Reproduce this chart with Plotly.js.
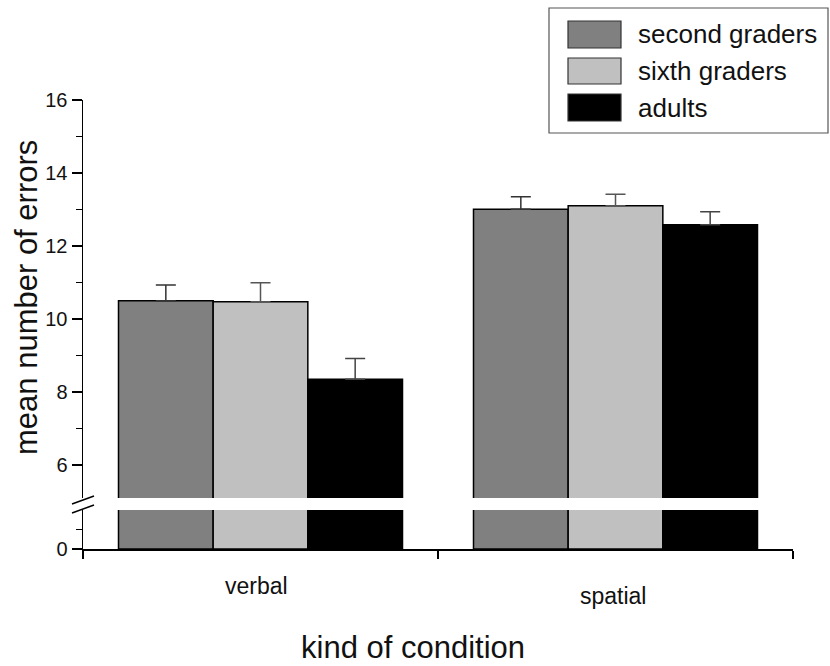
<!DOCTYPE html>
<html>
<head>
<meta charset="utf-8">
<script src="https://cdn.plot.ly/plotly-3.0.1.min.js"></script>
<style>
html,body{margin:0;padding:0;background:#fff;}
#chart{width:830px;height:666px;}
</style>
</head>
<body>
<div id="chart"></div>
<script>
// ---- data ----
const categories = ['verbal', 'spatial'];
const seriesNames = ['second graders', 'sixth graders', 'adults'];
const secondGraders = [10.50, 13.01];
const sixthGraders = [10.47, 13.10];
const adults = [8.35, 12.58];
const secondErr = [0.43, 0.34];
const sixthErr = [0.52, 0.32];
const adultsErr = [0.57, 0.36];
const yTickVals = [6, 8, 10, 12, 14, 16];
const xTitle = 'kind of condition';
const yTitle = 'mean number of errors';

const seriesValues = [secondGraders, sixthGraders, adults];
const seriesErrors = [secondErr, sixthErr, adultsErr];
const colors = ['#808080', '#c0c0c0', '#000000'];
const errColors = ['#333', '#555', '#444'];
const FONT = 'Liberation Sans, Arial, Helvetica, sans-serif';

// plot pixel geometry helpers (plot area: x 83..793, y 100..549)
const L = 83, R = 793, T = 100, B = 549;
const px = x => (x - L) / (R - L);
const py = y => (B - y) / (B - T);

const traces = [];
seriesValues.forEach((vals, i) => {
  // upper panel (broken axis, 5.1 .. 16)
  traces.push({
    type: 'bar', x: categories, y: vals, name: seriesNames[i],
    xaxis: 'x', yaxis: 'y2', showlegend: false,
    marker: {color: colors[i], line: {color: '#000', width: 1.5}},
    error_y: {type: 'data', symmetric: false, array: seriesErrors[i],
      arrayminus: vals.map(() => 0), color: errColors[i], thickness: 1.5, width: 10},
    hoverinfo: 'none'
  });
  // lower panel (0 .. 2)
  traces.push({
    type: 'bar', x: categories, y: vals, name: seriesNames[i],
    xaxis: 'x', yaxis: 'y', showlegend: false,
    marker: {color: colors[i], line: {color: '#000', width: 1.5}},
    hoverinfo: 'none'
  });
});

const shapes = [];
const annotations = [];

// custom legend box
shapes.push({type: 'rect', xref: 'paper', yref: 'paper',
  x0: px(549), x1: px(828), y0: py(133), y1: py(8),
  line: {color: '#555', width: 1.2}, fillcolor: 'rgba(0,0,0,0)'});
const rows = [[21, 48], [58, 84], [94, 121]];
seriesNames.forEach((n, i) => {
  shapes.push({type: 'rect', xref: 'paper', yref: 'paper',
    x0: px(568), x1: px(621), y0: py(rows[i][1]), y1: py(rows[i][0]),
    line: {color: '#333', width: 1.2}, fillcolor: colors[i]});
  annotations.push({xref: 'paper', yref: 'paper', x: px(636), y: py((rows[i][0] + rows[i][1]) / 2),
    xanchor: 'left', yanchor: 'middle', text: n, showarrow: false,
    font: {family: FONT, size: 26, color: '#111'}});
});

// axis break marks
shapes.push({type: 'line', xref: 'paper', yref: 'paper',
  x0: px(72), y0: py(504), x1: px(94), y1: py(496), line: {color: '#000', width: 1.5}});
shapes.push({type: 'line', xref: 'paper', yref: 'paper',
  x0: px(72), y0: py(513), x1: px(94), y1: py(505), line: {color: '#000', width: 1.5}});

// category labels
annotations.push({xref: 'x', yref: 'paper', x: categories[0], y: py(586), yanchor: 'middle',
  xshift: -4, text: categories[0], showarrow: false, font: {family: FONT, size: 23, color: '#111'}});
annotations.push({xref: 'x', yref: 'paper', x: categories[1], y: py(596), yanchor: 'middle',
  xshift: -3, text: categories[1], showarrow: false, font: {family: FONT, size: 23, color: '#111'}});
// axis titles
annotations.push({xref: 'paper', yref: 'paper', x: px(413), y: py(647), xanchor: 'center', yanchor: 'middle',
  text: xTitle, showarrow: false, font: {family: FONT, size: 31, color: '#111'}});
annotations.push({xref: 'paper', yref: 'paper', x: px(26), y: py(298), xanchor: 'center', yanchor: 'middle',
  textangle: -90, text: yTitle, showarrow: false, font: {family: FONT, size: 31, color: '#111'}});

const layout = {
  width: 830, height: 666,
  margin: {l: L, r: 830 - R, t: T, b: 666 - B, pad: 0},
  paper_bgcolor: '#fff', plot_bgcolor: '#fff',
  barmode: 'group', bargap: 0.2, bargroupgap: 0,
  showlegend: false,
  font: {family: FONT, size: 20, color: '#111'},
  xaxis: {
    type: 'category', range: [-0.5, 1.5], anchor: 'y',
    showline: true, linecolor: '#000', linewidth: 1.5,
    ticks: 'outside', tickson: 'boundaries', ticklen: 8, tickwidth: 1.5, tickcolor: '#000',
    showticklabels: false, showgrid: false, zeroline: false, fixedrange: true
  },
  yaxis: {
    domain: [0, py(510)], range: [0, 2],
    showline: true, linecolor: '#000', linewidth: 1.5,
    tickmode: 'array', tickvals: [0], ticktext: ['0'],
    ticks: 'outside', ticklen: 10, tickwidth: 1.5, tickcolor: '#000',
    minor: {tickmode: 'array', tickvals: [1], ticks: 'outside', ticklen: 6, tickwidth: 1.5, tickcolor: '#000', showgrid: false},
    tickfont: {family: FONT, size: 20, color: '#111'},
    showgrid: false, zeroline: false, fixedrange: true
  },
  yaxis2: {
    domain: [py(498), 1], range: [6 - 33 / 36.5, 16], anchor: 'x',
    showline: true, linecolor: '#000', linewidth: 1.5,
    tickmode: 'array', tickvals: yTickVals,
    ticks: 'outside', ticklen: 10, tickwidth: 1.5, tickcolor: '#000',
    minor: {dtick: 1, tick0: 0, ticks: 'outside', ticklen: 6, tickwidth: 1.5, tickcolor: '#000', showgrid: false},
    tickfont: {family: FONT, size: 20, color: '#111'},
    showgrid: false, zeroline: false, fixedrange: true
  },
  shapes: shapes,
  annotations: annotations
};

Plotly.newPlot('chart', traces, layout, {displayModeBar: false, staticPlot: true});
</script>
</body>
</html>
